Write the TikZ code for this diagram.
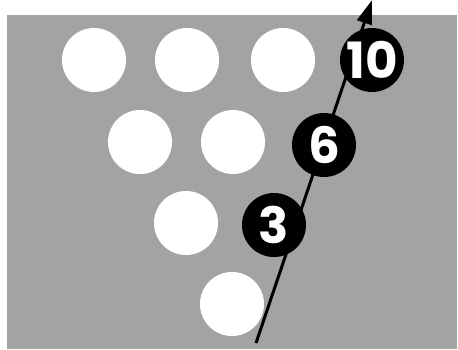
\documentclass[tikz,border=0pt]{standalone}
\usepackage{fontspec}
\setsansfont{Poppins}
\usetikzlibrary{arrows.meta}
\definecolor{lane}{RGB}{163,163,163}
\begin{document}
\begin{tikzpicture}[x=1pt,y=-1pt,
  pin/.style={circle,fill=white,minimum size=64pt,inner sep=0pt},
  ball/.style={circle,fill=black,minimum size=64pt,inner sep=0pt,text=white,
    font=\sffamily\bfseries\fontsize{50}{50}\selectfont},
  path/.style={line width=3pt,-{Triangle[length=24pt,width=15pt]}}]
\useasboundingbox (0,0) rectangle (458,349);
\fill[white] (0,0) rectangle (458,349);
\fill[lane] (7,15) rectangle (457,349);
% pins
\node[pin] (p7) at (94,60) {};
\node[pin] (p8) at (187,60) {};
\node[pin] (p9) at (283,60) {};
\node[pin] (p4) at (140,142) {};
\node[pin] (p5) at (233,142) {};
\node[pin] (p2) at (186,223) {};
\node[pin] (p1) at (232,304) {};
% ball path
\coordinate (start) at (256,343);
\coordinate (end) at (372,0);
\draw[path] (start) -- (end);
% balls
\node[ball] (b10) at (372,60) {\raisebox{-3pt}{10}};
\node[ball] (b6) at (324,145) {\raisebox{-3pt}{6}};
\node[ball] (b3) at (274,225) {\raisebox{-3pt}{3}};
\end{tikzpicture}
\end{document}
